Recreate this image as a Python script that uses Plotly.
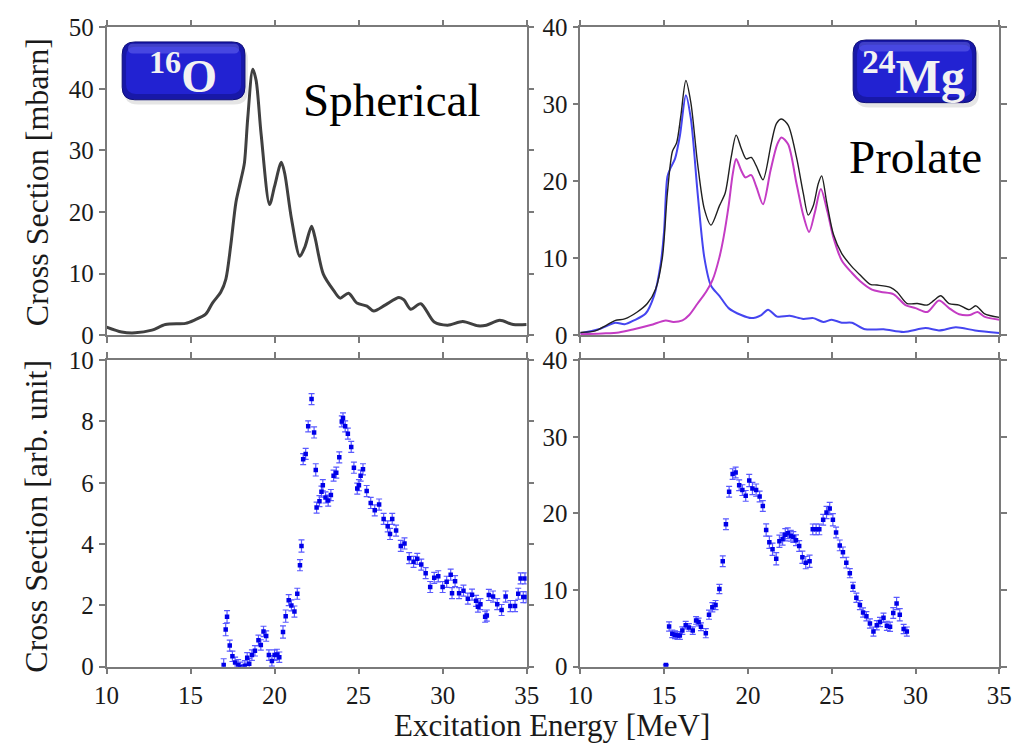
import plotly.graph_objects as go

W, H = 1026, 754

# ---------------- data ----------------
# 16O theory (top-left)
o_th_x = [10.0, 10.9, 11.7, 12.7, 13.5, 14.7, 15.2, 15.9, 16.3, 16.8, 17.1, 17.4, 17.7, 18.0, 18.2,
          18.4, 18.7, 18.9, 19.2, 19.7, 20.0, 20.4, 20.6, 21.0, 21.5, 21.8, 22.2, 22.4, 22.9, 23.5,
          23.9, 24.4, 24.9, 25.5, 25.9, 26.6, 27.4, 27.7, 28.1, 28.7, 29.5, 30.3, 31.2, 32.1, 32.6,
          33.4, 34.2, 35.0]
o_th_y = [1.3, 0.5, 0.36, 0.8, 1.7, 1.9, 2.4, 3.4, 5.2, 7.0, 9.1, 14.8, 21.6, 25.3, 27.9,
          35.2, 43.2, 41.4, 32.6, 21.2, 24.2, 28.1, 26.3, 19.0, 12.8, 14.3, 17.7, 15.9, 9.9, 7.3,
          6.0, 6.8, 5.2, 4.7, 3.9, 4.9, 6.1, 5.7, 4.2, 5.1, 2.1, 1.6, 2.2, 1.5, 1.6,
          2.4, 1.7, 1.7]

# 24Mg theory (top-right): total, magenta component, blue component
mg_tot_x = [10.0, 10.9, 11.5, 12.1, 12.65, 13.4, 14.0, 14.5, 14.9, 15.2, 15.5, 15.75, 16.0, 16.3, 16.6,
            17.0, 17.4, 17.8, 18.3, 18.65, 19.0, 19.3, 19.6, 19.9, 20.2, 20.5, 20.9, 21.4, 21.7, 22.0,
            22.4, 22.9, 23.3, 23.6, 23.9, 24.2, 24.4, 24.7, 25.1, 25.6, 26.2, 26.7, 27.3, 27.7, 28.5,
            28.9, 29.5, 30.1, 30.7, 31.1, 31.5, 32.0, 32.6, 33.2, 33.6, 34.1, 35.0]
mg_tot_y = [0.33, 0.54, 1.2, 1.9, 2.1, 3.0, 4.1, 6.0, 10.1, 18.5, 23.9, 25.0, 28.5, 33.1, 30.2,
            22.3, 16.4, 14.3, 16.8, 18.5, 23.1, 26.0, 24.3, 22.9, 23.1, 22.0, 20.2, 25.0, 27.5, 28.1,
            27.3, 23.1, 18.5, 15.6, 16.8, 19.7, 20.7, 17.3, 13.1, 10.6, 8.9, 7.8, 6.6, 6.5, 6.2,
            5.6, 4.1, 4.1, 3.9, 4.5, 5.1, 4.1, 3.9, 3.3, 3.8, 2.8, 2.3]

mg_k0_x = [10.0, 11.3, 12.3, 13.2, 14.2, 15.1, 15.55, 16.1, 16.5, 17.0, 17.5, 17.9, 18.3, 18.55, 18.85,
           19.1, 19.3, 19.6, 19.85, 20.2, 20.5, 20.9, 21.35, 21.75, 22.0, 22.4, 22.9, 23.3, 23.65, 24.0,
           24.35, 24.75, 25.1, 25.6, 26.2, 26.7, 27.4, 27.95, 28.7, 29.4, 30.0, 30.7, 31.4, 32.0, 32.6,
           33.25, 33.7, 34.1, 35.0]
mg_k0_y = [0.1, 0.2, 0.33, 0.75, 1.3, 1.9, 1.7, 1.9, 2.6, 4.1, 5.6, 7.2, 10.1, 12.7, 16.8,
           21.0, 22.9, 21.4, 20.5, 20.8, 19.3, 17.0, 21.4, 24.8, 25.7, 24.8, 19.7, 15.6, 13.4, 16.0,
           19.0, 16.0, 12.7, 9.7, 8.1, 7.0, 5.9, 5.6, 5.3, 3.9, 3.5, 3.0, 4.5, 3.5, 2.7,
           2.6, 3.0, 2.4, 2.0]

mg_k1_x = [10.0, 11.1, 12.1, 12.65, 13.2, 13.9, 14.4, 14.8, 15.0, 15.2, 15.4, 15.65, 15.95, 16.3, 16.6,
           17.0, 17.4, 17.8, 18.3, 18.85, 19.6, 20.2, 20.8, 21.2, 21.75, 22.5, 23.3, 23.9, 24.5, 25.0,
           25.6, 26.2, 27.0, 28.1, 29.3, 30.6, 31.4, 32.4, 33.55, 35.0]
mg_k1_y = [0.25, 0.75, 1.6, 1.4, 1.9, 2.8, 5.1, 9.3, 13.5, 20.6, 21.8, 22.9, 26.0, 31.2, 28.1,
           18.5, 10.1, 6.4, 5.1, 3.5, 2.6, 2.2, 2.6, 3.3, 2.4, 2.5, 2.1, 2.2, 1.7, 2.0,
           1.6, 1.6, 0.75, 0.75, 0.4, 0.9, 0.6, 1.0, 0.6, 0.25]

# 16O experiment (bottom-left)
o_ex_x = [16.97, 17.09, 17.17, 17.33, 17.49, 17.65, 17.83, 17.97, 18.13, 18.23,
          18.37, 18.49, 18.65, 18.83, 19.04, 19.18, 19.34, 19.50, 19.66, 19.84,
          20.00, 20.14, 20.28, 20.50, 20.66, 20.84, 21.00, 21.18, 21.35, 21.51,
          21.60, 21.70, 21.85, 22.00, 22.20, 22.35, 22.45, 22.50, 22.67, 22.79,
          22.87, 23.03, 23.19, 23.35, 23.51, 23.67, 23.85, 24.00, 24.07, 24.20,
          24.36, 24.56, 24.72, 24.92, 25.02, 25.12, 25.26, 25.48, 25.72, 25.96,
          26.22, 26.49, 26.73, 26.87, 27.00, 27.23, 27.51, 27.73, 28.01, 28.27,
          28.49, 28.73, 28.99, 29.26, 29.50, 29.74, 30.00, 30.24, 30.48, 30.56,
          30.74, 30.98, 31.24, 31.50, 31.75, 31.99, 32.10, 32.25, 32.53, 32.63,
          32.75, 33.00, 33.25, 33.51, 33.75, 34.03, 34.31, 34.50, 34.64, 34.80,
          34.90, 34.98]
o_ex_y = [0.06, 1.21, 1.63, 0.69, 0.34, 0.14, 0.06, -0.02, -0.10, 0.03,
          0.29, 0.10, 0.38, 0.52, 0.86, 0.71, 1.15, 1.00, 0.38, 0.19,
          0.38, 0.40, 0.31, 1.13, 1.65, 2.17, 2.00, 1.80, 2.38, 3.31,
          3.94, 6.77, 6.94, 7.84, 8.73, 7.64, 6.42, 5.19, 5.40, 5.71,
          5.92, 5.52, 5.42, 5.60, 6.23, 6.33, 6.83, 8.00, 8.10, 7.84,
          7.60, 7.17, 6.49, 5.81, 5.92, 6.23, 6.44, 5.73, 5.34, 5.10,
          5.29, 4.82, 4.58, 4.33, 4.82, 4.44, 3.94, 4.02, 3.54, 3.42,
          3.52, 3.33, 3.05, 2.60, 2.90, 2.95, 2.60, 2.77, 3.00, 2.40,
          2.79, 2.40, 2.48, 2.22, 2.35, 2.15, 1.96, 2.04, 1.63, 1.67,
          2.34, 2.29, 2.04, 1.85, 2.29, 1.98, 1.98, 2.38, 2.88, 2.27,
          2.88, 2.27]
o_ex_err = [0.20, 0.20, 0.20, 0.18, 0.17, 0.17, 0.17, 0.17, 0.17, 0.17,
            0.17, 0.17, 0.17, 0.17, 0.17, 0.17, 0.17, 0.17, 0.17, 0.17,
            0.17, 0.17, 0.17, 0.20, 0.20, 0.18, 0.18, 0.18, 0.18, 0.18,
            0.20, 0.18, 0.18, 0.18, 0.18, 0.18, 0.20, 0.18, 0.18, 0.18,
            0.18, 0.18, 0.18, 0.18, 0.18, 0.18, 0.18, 0.18, 0.18, 0.18,
            0.18, 0.18, 0.18, 0.18, 0.18, 0.18, 0.18, 0.18, 0.18, 0.18,
            0.18, 0.18, 0.18, 0.18, 0.18, 0.18, 0.18, 0.18, 0.18, 0.18,
            0.18, 0.18, 0.18, 0.18, 0.18, 0.18, 0.18, 0.18, 0.18, 0.18,
            0.18, 0.18, 0.18, 0.18, 0.18, 0.18, 0.18, 0.18, 0.18, 0.18,
            0.18, 0.18, 0.18, 0.18, 0.18, 0.18, 0.18, 0.18, 0.18, 0.18,
            0.18, 0.18]

# 24Mg experiment (bottom-right)
mg_ex_x = [15.11, 15.30, 15.49, 15.65, 15.80, 15.94, 16.09, 16.29, 16.48, 16.71,
           16.91, 17.06, 17.20, 17.49, 17.68, 17.88, 18.07, 18.30, 18.50, 18.69,
           18.88, 19.09, 19.27, 19.48, 19.67, 19.87, 20.08, 20.27, 20.49, 20.70,
           20.89, 21.09, 21.28, 21.47, 21.69, 21.88, 22.07, 22.23, 22.38, 22.56,
           22.71, 22.87, 23.06, 23.25, 23.45, 23.68, 23.87, 24.07, 24.26, 24.49,
           24.69, 24.88, 25.07, 25.26, 25.48, 25.67, 25.87, 26.08, 26.27, 26.47,
           26.68, 26.87, 27.07, 27.28, 27.49, 27.69, 27.88, 28.09, 28.29, 28.48,
           28.67, 28.87, 29.06, 29.29, 29.48]
mg_ex_y = [0.21, 5.25, 4.29, 4.17, 4.08, 4.08, 4.71, 5.42, 5.13, 4.71,
           6.04, 5.83, 5.21, 4.38, 6.79, 7.75, 8.04, 10.13, 13.75, 18.58,
           22.83, 25.13, 25.33, 23.67, 23.04, 22.29, 24.29, 23.25, 23.04, 22.21,
           20.96, 17.83, 16.25, 15.33, 14.08, 16.38, 16.67, 17.21, 17.42, 17.08,
           16.92, 16.50, 15.75, 14.29, 13.58, 13.75, 17.92, 17.92, 17.92, 19.17,
           20.13, 20.63, 19.17, 17.50, 15.83, 14.92, 13.58, 12.21, 10.42, 9.00,
           8.04, 7.08, 6.58, 5.63, 4.58, 5.42, 5.83, 6.38, 5.33, 5.21,
           7.00, 8.25, 6.79, 4.92, 4.58]
mg_ex_err = [0.1, 0.6, 0.5, 0.5, 0.5, 0.5, 0.5, 0.5, 0.5, 0.5,
             0.5, 0.5, 0.5, 0.6, 0.6, 0.6, 0.6, 0.6, 0.7, 0.7,
             0.7, 0.7, 0.7, 0.7, 0.7, 0.7, 0.8, 0.8, 0.8, 0.7,
             0.7, 0.8, 0.8, 0.8, 0.8, 0.8, 0.8, 0.8, 0.7, 0.7,
             0.7, 0.7, 0.7, 0.8, 0.8, 0.8, 0.7, 0.7, 0.7, 0.7,
             0.8, 0.8, 0.8, 0.7, 0.7, 0.7, 0.7, 0.6, 0.6, 0.6,
             0.6, 0.6, 0.6, 0.6, 0.6, 0.6, 0.6, 0.6, 0.6, 0.6,
             0.7, 0.8, 0.8, 0.6, 0.6]

x_ticks = [10, 15, 20, 25, 30, 35]

# ---------------- layout helpers ----------------
def px_x(p):
    return p / W

def px_y(p):
    return 1 - p / H

LEFT = [px_x(96), px_x(527)]
RIGHT = [px_x(582), px_x(1012)]
TOP = [px_y(334), px_y(15)]
BOT = [px_y(678), px_y(360)]

FONT = "Liberation Serif, Times New Roman, serif"
AXC = "#7a7a7a"

fig = go.Figure()

fig.add_trace(go.Scatter(x=o_th_x, y=o_th_y, mode="lines", line=dict(color="#404040", width=3, shape="spline", smoothing=0.8),
                         xaxis="x", yaxis="y", showlegend=False, hoverinfo="skip"))
fig.add_trace(go.Scatter(x=mg_k1_x, y=mg_k1_y, mode="lines", line=dict(color="#4545f0", width=2, shape="spline", smoothing=0.8),
                         xaxis="x2", yaxis="y2", showlegend=False))
fig.add_trace(go.Scatter(x=mg_k0_x, y=mg_k0_y, mode="lines", line=dict(color="#c43cc4", width=2, shape="spline", smoothing=0.8),
                         xaxis="x2", yaxis="y2", showlegend=False))
fig.add_trace(go.Scatter(x=mg_tot_x, y=mg_tot_y, mode="lines", line=dict(color="#202020", width=1.4, shape="spline", smoothing=0.8),
                         xaxis="x2", yaxis="y2", showlegend=False))

err_style = dict(type="data", thickness=1.2, width=3, color="#5a5aff")
fig.add_trace(go.Scatter(x=o_ex_x, y=o_ex_y, mode="markers",
                         marker=dict(symbol="square", size=4.5, color="#0000e8"),
                         error_y=dict(array=o_ex_err, **err_style),
                         xaxis="x3", yaxis="y3", showlegend=False))
fig.add_trace(go.Scatter(x=mg_ex_x, y=mg_ex_y, mode="markers",
                         marker=dict(symbol="square", size=4.5, color="#0000e8"),
                         error_y=dict(array=mg_ex_err, **err_style),
                         xaxis="x4", yaxis="y4", showlegend=False))

def xaxis(domain, anchor, labels):
    return dict(domain=domain, anchor=anchor, range=[10, 35], tickvals=x_ticks,
                showticklabels=labels, ticks="outside", ticklen=6, tickwidth=1.5, tickcolor=AXC,
                showline=True, linecolor=AXC, linewidth=1.5, mirror="ticks", showgrid=False, zeroline=False,
                tickfont=dict(family=FONT, size=25, color="#1a1a1a"))

def yaxis(domain, anchor, rng, dt):
    return dict(domain=domain, anchor=anchor, range=rng, dtick=dt, tick0=0,
                ticks="outside", ticklen=6, tickwidth=1.5, tickcolor=AXC,
                showline=True, linecolor=AXC, linewidth=1.5, mirror="ticks", showgrid=False, zeroline=False,
                tickfont=dict(family=FONT, size=25, color="#1a1a1a"))

def rrect(x0, y0, x1, y1, r):
    X0, X1 = px_x(x0), px_x(x1)
    Y0, Y1 = px_y(y0), px_y(y1)
    rx, ry = r / W, r / H
    return (f"M {X0+rx},{Y0} L {X1-rx},{Y0} Q {X1},{Y0} {X1},{Y0-ry} "
            f"L {X1},{Y1+ry} Q {X1},{Y1} {X1-rx},{Y1} L {X0+rx},{Y1} "
            f"Q {X0},{Y1} {X0},{Y1+ry} L {X0},{Y0-ry} Q {X0},{Y0} {X0+rx},{Y0} Z")

shapes = []
for (bx0, by0, bx1, by1) in [(112, 30, 238, 90), (862, 28, 988, 93)]:
    shapes.append(dict(type="path", xref="paper", yref="paper", path=rrect(bx0 + 2, by0 + 4, bx1 + 3, by1 + 5, 14),
                       fillcolor="rgba(0,0,0,0.10)", line=dict(width=0)))
    shapes.append(dict(type="path", xref="paper", yref="paper", path=rrect(bx0, by0, bx1, by1, 13),
                       fillcolor="#1818a8", line=dict(color="#0e0e78", width=1)))
    shapes.append(dict(type="path", xref="paper", yref="paper", path=rrect(bx0 + 4, by0 + 5, bx1 - 4, by1 - 6, 10),
                       fillcolor="rgba(36,36,214,0.9)", line=dict(width=0)))
    shapes.append(dict(type="path", xref="paper", yref="paper", path=rrect(bx0 + 6, by0 + 2, bx1 - 6, by0 + 12, 5),
                       fillcolor="rgba(140,140,255,0.35)", line=dict(width=0)))

annotations = [
    dict(text="<b><sup>16</sup>O</b>", x=px_x(174), y=px_y(62), xref="paper", yref="paper", showarrow=False,
         font=dict(family=FONT, size=46, color="#f2f2f2"), xanchor="center", yanchor="middle"),
    dict(text="<b><sup>24</sup>Mg</b>", x=px_x(924), y=px_y(62), xref="paper", yref="paper", showarrow=False,
         font=dict(family=FONT, size=48, color="#f2f2f2"), xanchor="center", yanchor="middle"),
    dict(text="Spherical", x=px_x(389), y=px_y(90), xref="paper", yref="paper", showarrow=False,
         font=dict(family=FONT, size=47, color="#000000"), xanchor="center", yanchor="middle"),
    dict(text="Prolate", x=px_x(926), y=px_y(149), xref="paper", yref="paper", showarrow=False,
         font=dict(family=FONT, size=47, color="#000000"), xanchor="center", yanchor="middle"),
    dict(text="Cross Section [mbarn]", x=px_x(24), y=px_y(175), xref="paper", yref="paper", showarrow=False,
         textangle=-90, font=dict(family=FONT, size=32, color="#1a1a1a"), xanchor="center", yanchor="middle"),
    dict(text="Cross Section [arb. unit]", x=px_x(24), y=px_y(522), xref="paper", yref="paper", showarrow=False,
         textangle=-90, font=dict(family=FONT, size=32, color="#1a1a1a"), xanchor="center", yanchor="middle"),
    dict(text="Excitation Energy [MeV]", x=px_x(553), y=px_y(739), xref="paper", yref="paper", showarrow=False,
         font=dict(family=FONT, size=31, color="#1a1a1a"), xanchor="center", yanchor="middle"),
]

fig.update_layout(
    width=W, height=H, margin=dict(l=0, r=0, t=0, b=0),
    paper_bgcolor="white", plot_bgcolor="white",
    xaxis=xaxis(LEFT, "y", False), yaxis=yaxis(TOP, "x", [0, 50], 10),
    xaxis2=xaxis(RIGHT, "y2", False), yaxis2=yaxis(TOP, "x2", [0, 40], 10),
    xaxis3=xaxis(LEFT, "y3", True), yaxis3=yaxis(BOT, "x3", [0, 10], 2),
    xaxis4=xaxis(RIGHT, "y4", True), yaxis4=yaxis(BOT, "x4", [0, 40], 10),
    shapes=shapes, annotations=annotations, showlegend=False,
)

fig.write_html("out.html")
